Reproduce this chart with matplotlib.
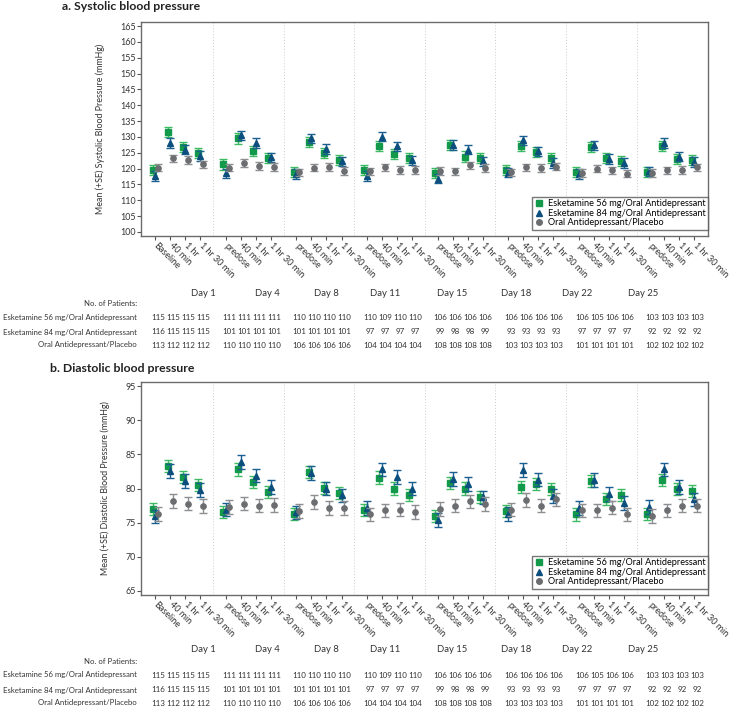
import matplotlib
matplotlib.use("Agg")
import matplotlib.pyplot as plt
import matplotlib.transforms as mtransforms
from matplotlib.lines import Line2D
import numpy as np

plt.rcParams['font.family'] = ['Lato', 'DejaVu Sans']

# ---- data ----
days = ["Day 1", "Day 4", "Day 8", "Day 11", "Day 15", "Day 18", "Day 22", "Day 25"]
times_first = ["Baseline", "40 min", "1 hr", "1 hr 30 min"]
times_other = ["predose", "40 min", "1 hr", "1 hr 30 min"]
tick_labels = times_first + times_other * 7

names = ["Esketamine 56 mg/Oral Antidepressant",
         "Esketamine 84 mg/Oral Antidepressant",
         "Oral Antidepressant/Placebo"]

# systolic, mean per visit (8 days x 4 time points)
sbp_56 = [119.6, 131.5, 126.8, 124.8, 121.3, 129.5, 125.5, 123.3,
          119.0, 128.5, 125.0, 122.8, 119.6, 127.0, 124.7, 123.3,
          118.6, 127.4, 123.8, 123.3, 119.6, 127.0, 125.1, 123.3,
          118.9, 126.7, 123.3, 122.3, 118.9, 127.0, 123.0, 122.8]
sbp_84 = [117.6, 128.0, 126.0, 124.0, 118.5, 130.5, 128.0, 123.5,
          118.3, 129.5, 126.2, 122.3, 117.7, 130.1, 127.0, 122.6,
          116.8, 127.4, 126.0, 122.3, 118.7, 128.9, 125.4, 121.7,
          118.3, 127.3, 123.0, 121.7, 119.1, 128.0, 123.8, 122.0]
sbp_pl = [120.3, 123.2, 122.8, 121.3, 120.3, 121.8, 120.8, 120.5,
          118.8, 120.3, 120.5, 119.3, 119.1, 120.4, 119.6, 119.6,
          119.3, 119.1, 121.0, 120.2, 118.8, 120.4, 120.2, 120.6,
          118.6, 120.0, 119.4, 118.4, 118.6, 119.4, 119.6, 120.4]
sbp_se = [1.6, 1.5, 1.2]

# diastolic
dbp_56 = [77.0, 83.3, 81.7, 80.5, 76.6, 82.8, 81.0, 79.5,
          76.3, 82.4, 80.1, 79.3, 76.9, 81.6, 80.0, 79.1,
          76.0, 80.8, 80.0, 78.8, 76.7, 80.2, 80.7, 79.9,
          76.2, 81.1, 78.5, 79.0, 76.3, 81.2, 79.9, 79.6]
dbp_84 = [75.9, 82.6, 81.1, 79.8, 76.9, 83.9, 81.9, 80.2,
          76.5, 82.3, 80.0, 79.0, 77.1, 82.8, 81.7, 80.0,
          75.4, 81.4, 80.7, 78.7, 76.3, 82.7, 81.3, 78.9,
          77.1, 81.2, 79.2, 77.9, 77.3, 82.8, 80.2, 78.4]
dbp_pl = [76.3, 78.2, 77.8, 77.4, 77.3, 77.8, 77.5, 77.6,
          76.7, 78.0, 77.1, 77.1, 76.2, 76.8, 76.9, 76.6,
          77.0, 77.5, 78.1, 77.7, 76.9, 78.3, 77.5, 78.4,
          76.8, 76.8, 77.2, 76.2, 76.0, 76.8, 77.5, 77.5]
dbp_se = [0.9, 1.0, 1.0]

# number of patients per visit
n_56 = [115, 115, 115, 115, 111, 111, 111, 111, 110, 110, 110, 110,
        110, 109, 110, 110, 106, 106, 106, 106, 106, 106, 106, 106,
        106, 105, 106, 106, 103, 103, 103, 103]
n_84 = [116, 115, 115, 115, 101, 101, 101, 101, 101, 101, 101, 101,
        97, 97, 97, 97, 99, 98, 98, 99, 93, 93, 93, 93,
        97, 97, 97, 97, 92, 92, 92, 92]
n_pl = [113, 112, 112, 112, 110, 110, 110, 110, 106, 106, 106, 106,
        104, 104, 104, 104, 108, 108, 108, 108, 103, 103, 103, 103,
        101, 101, 101, 101, 102, 102, 102, 102]

colors = ['#12994a', '#0c4f7e', '#6b6d70']
ecolors = ['#3dba62', '#1a5f91', '#8c8e91']
markers = ['s', '^', 'o']

W, H = 729, 707
GAP = 4.7
xpos = np.array([g * GAP + i for g in range(len(days)) for i in range(4)])
day_label_px = [203, 267, 326, 385, 452, 516, 577, 643]


def fy(py):
    return 1 - py / H


def panel(fig, top, bot, title, title_x, title_y, ylabel, series, se,
          yticks, ylim, day_y, npat_y, row_ys):
    ax = fig.add_axes([141 / W, fy(bot), (708 - 141) / W, (bot - top) / H])
    offs = [-0.18, 0.0, 0.18]
    order = [2, 0, 1]
    for k in order:
        ax.errorbar(xpos + offs[k], series[k], yerr=se[k], fmt=markers[k],
                    color=colors[k], ecolor=ecolors[k], markersize=3.8,
                    elinewidth=1.0, capsize=2.6, capthick=1.0, zorder=3 + k)
    for g in range(len(days) - 1):
        ax.axvline(g * GAP + 3.85, color='#cccccc', lw=0.7, ls=(0, (1, 2)), zorder=1)
    ax.set_xlim(-0.95, 36.8)
    ax.set_ylim(*ylim)
    ax.set_yticks(yticks)
    ax.set_xticks(xpos)
    ax.set_xticklabels(tick_labels, rotation=-45, ha='left', va='center',
                       rotation_mode='anchor', fontsize=6.5, color='#333333')
    ax.tick_params(axis='y', labelsize=6.4, length=3, width=0.8,
                   colors='#555555', labelcolor='#333333', pad=1)
    ax.tick_params(axis='x', length=3, width=0.8, colors='#555555',
                   labelcolor='#333333', pad=3)
    for s in ax.spines.values():
        s.set_color('#6b6b6b')
        s.set_linewidth(1.0)
    ax.set_ylabel(ylabel, fontsize=6.4, color='#333333', labelpad=11)

    handles = [Line2D([], [], ls='', marker=markers[k], color=colors[k],
                      markersize=4) for k in range(3)]
    leg = ax.legend(handles, names, loc='lower right', bbox_to_anchor=(1.0, 0.03),
                    fontsize=6.6, frameon=True, fancybox=False, borderpad=0.25,
                    labelspacing=0.05, handlelength=1.0, handletextpad=0.5,
                    borderaxespad=0.0)
    leg.get_frame().set_edgecolor('#555555')
    leg.get_frame().set_linewidth(1.0)

    fig.text(title_x / W, fy(title_y), title, fontsize=8.8, fontweight='bold',
             va='center', ha='left', color='#222222')

    for d, px in zip(days, day_label_px):
        fig.text(px / W, fy(day_y), d, fontsize=6.8, ha='center', va='center',
                 color='#333333')
    fig.text(137 / W, fy(npat_y), "No. of Patients:", fontsize=5.6,
             ha='right', va='center', color='#333333')
    tr = mtransforms.blended_transform_factory(ax.transData, fig.transFigure)
    for name, counts, ry in zip(names, [n_56, n_84, n_pl], row_ys):
        fig.text(137 / W, fy(ry), name, fontsize=5.6, ha='right', va='center',
                 color='#333333')
        for x, c in zip(xpos, counts):
            ax.text(x + 0.2, fy(ry), str(c), transform=tr, fontsize=5.8,
                    ha='center', va='center', color='#333333', clip_on=False)
    return ax


fig = plt.figure(figsize=(W / 100, H / 100), dpi=100)

panel(fig, 22, 236, "a. Systolic blood pressure", 62, 7,
      "Mean (+SE) Systolic Blood Pressure (mmHg)",
      [sbp_56, sbp_84, sbp_pl], sbp_se,
      np.arange(100, 166, 5), (98.7, 166.3), 293, 304, [317, 332, 345])

panel(fig, 382, 595, "b. Diastolic blood pressure", 50, 369,
      "Mean (+SE) Diastolic Blood Pressure (mmHg)",
      [dbp_56, dbp_84, dbp_pl], dbp_se,
      np.arange(65, 96, 5), (64.4, 95.6), 650, 662, [675, 690, 703])

fig.savefig("out.png", dpi=100)
